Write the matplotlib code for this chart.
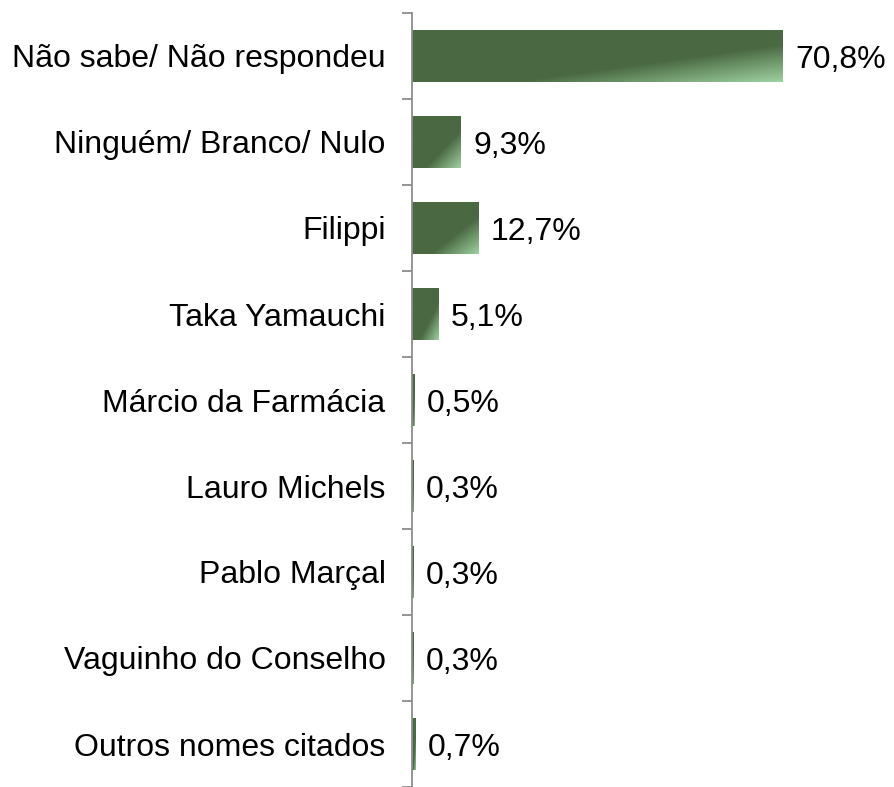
import matplotlib
matplotlib.use("Agg")
import matplotlib.pyplot as plt
import numpy as np
from matplotlib.colors import LinearSegmentedColormap

# data
categories = ["Não sabe/ Não respondeu", "Ninguém/ Branco/ Nulo", "Filippi",
              "Taka Yamauchi", "Márcio da Farmácia", "Lauro Michels",
              "Pablo Marçal", "Vaguinho do Conselho", "Outros nomes citados"]
values = [70.8, 9.3, 12.7, 5.1, 0.5, 0.3, 0.3, 0.3, 0.7]
value_labels = ["70,8%", "9,3%", "12,7%", "5,1%", "0,5%", "0,3%", "0,3%", "0,3%", "0,7%"]

plt.rcParams['font.family'] = ['Liberation Sans', 'DejaVu Sans']

dark = "#4a6942"
light = "#9dd0a0"
cmap = LinearSegmentedColormap.from_list("bar", [(0, dark), (0.64, dark), (1, light)])

fig = plt.figure(figsize=(8.94, 7.87), dpi=100)
ax = fig.add_axes([412/894, 0, 419/894, 774/787])

bar_h = 0.6
# diagonal gradient in the bar's own coordinates, light at the bottom right
n = 64
u = np.linspace(0, 1, n)
s = (u[None, :] + u[:, None]) / 2.0

for i, (v, lab) in enumerate(zip(values, value_labels)):
    bars = ax.barh(i, v, height=bar_h, color=dark, linewidth=0, zorder=1)
    im = ax.imshow(s, cmap=cmap, vmin=0, vmax=1, aspect='auto', origin='upper',
                   extent=(0, v, i + bar_h/2, i - bar_h/2), interpolation='bilinear',
                   zorder=2)
    im.set_clip_path(bars[0])
    ax.annotate(lab, (v, i), xytext=(9, 0), textcoords='offset points',
                va='center_baseline', ha='left', fontsize=23, color='black')

ax.set_xlim(0, 80)
ax.set_ylim(len(categories) - 0.5, -0.5)

ax.set_yticks(range(len(categories)))
ax.set_yticklabels(categories, fontsize=23)
ax.set_yticks(np.arange(len(categories) + 1) - 0.5, minor=True)
ax.tick_params(axis='y', which='major', length=0, pad=19)
ax.tick_params(axis='y', which='minor', length=7, width=1.3, color='#8c8c8c', direction='out')
ax.set_xticks([])

for side in ['top', 'right', 'bottom']:
    ax.spines[side].set_visible(False)
ax.spines['left'].set_color('#8c8c8c')
ax.spines['left'].set_linewidth(1.3)
ax.spines['left'].set_zorder(3)

fig.savefig("out.png", dpi=100)
